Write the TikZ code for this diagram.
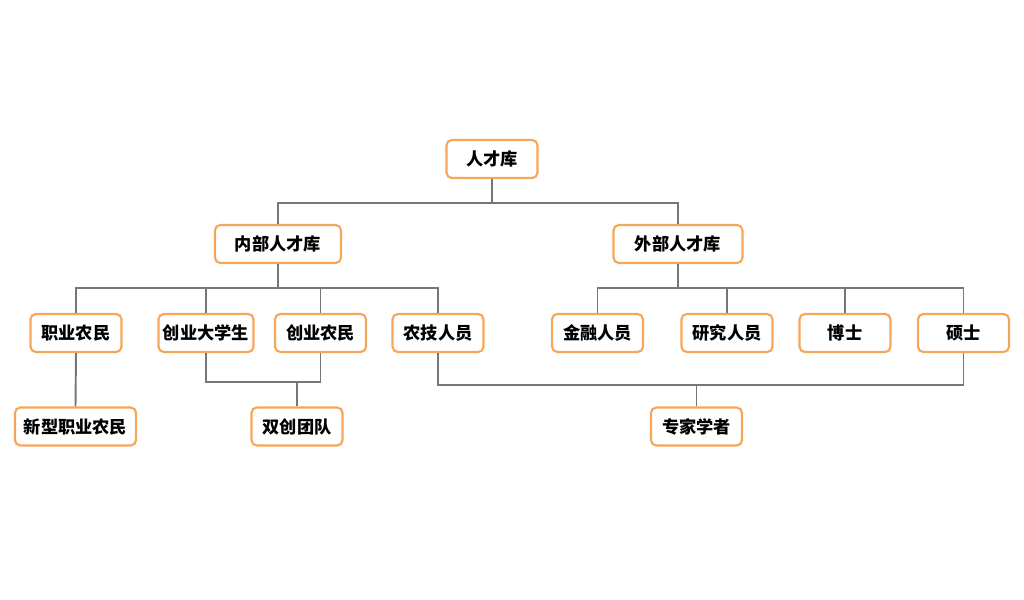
\documentclass[tikz,border=0pt]{standalone}
\usepackage{fontspec}
\usepackage{tikz}
\newfontfamily\cjk{Noto Sans CJK SC}
\definecolor{boxcol}{RGB}{246,166,88}
\definecolor{linkcol}{RGB}{118,118,118}
\tikzset{
  tbox/.style={draw=boxcol, line width=1.2pt, rounded corners=3pt, fill=white,
    minimum height=0.76cm, minimum width=1.82cm, inner sep=2pt,
    font=\cjk\bfseries\fontsize{9.8pt}{11pt}\selectfont},
  link/.style={draw=linkcol, line width=1.1pt}
}

\begin{document}
\begin{tikzpicture}[line join=miter]

  % --- page frame ---------------------------------------------------------
  \useasboundingbox (0,0) rectangle (20.48,12);

  % --- bus levels ---------------------------------------------------------
  \coordinate (BusA) at (0,7.94);
  \coordinate (BusB) at (0,6.24);
  \coordinate (BusC) at (0,4.30);
  \coordinate (BusD) at (0,4.36);

  % --- boxes --------------------------------------------------------------
  \node[tbox] (Root)  at (9.84,8.82) {人才库};
  \node[tbox, minimum width=2.52cm] (Inner) at (5.56,7.12) {内部人才库};
  \node[tbox, minimum width=2.58cm] (Outer) at (13.56,7.12) {外部人才库};

  \node[tbox] (Farmer)   at (1.52,5.34)  {职业农民};
  \node[tbox, minimum width=1.90cm] (Student) at (4.12,5.34) {创业大学生};
  \node[tbox] (Founder)  at (6.41,5.34)  {创业农民};
  \node[tbox] (Tech)     at (8.76,5.34)  {农技人员};
  \node[tbox] (Finance)  at (11.95,5.34) {金融人员};
  \node[tbox] (Research) at (14.54,5.34) {研究人员};
  \node[tbox] (Doctor)   at (16.90,5.34) {博士};
  \node[tbox] (Master)   at (19.27,5.34) {硕士};

  \node[tbox, minimum width=2.42cm] (NewFarmer) at (1.51,3.47) {新型职业农民};
  \node[tbox] (Team)    at (5.94,3.47)  {双创团队};
  \node[tbox] (Experts) at (13.93,3.47) {专家学者};

  % --- first level --------------------------------------------------------
  \draw[link] (Root.south) -- (Root.south |- BusA);
  \draw[link] (Inner.north) |- (BusA -| Outer.north) -- (Outer.north);

  % --- internal pool ------------------------------------------------------
  \draw[link] (Inner.south) -- (Inner.south |- BusB);
  \draw[link] (Farmer.north) |- (BusB -| Tech.north) -- (Tech.north);
  \draw[link] (Student.north) -- (Student.north |- BusB);
  \draw[link] (Founder.north) -- (Founder.north |- BusB);

  % --- external pool ------------------------------------------------------
  \draw[link] (Outer.south) -- (Outer.south |- BusB);
  \draw[link] (Finance.north) |- (BusB -| Master.north) -- (Master.north);
  \draw[link] (Research.north) -- (Research.north |- BusB);
  \draw[link] (Doctor.north) -- (Doctor.north |- BusB);

  % --- bottom row ---------------------------------------------------------
  \draw[link] (Farmer.south) -- (NewFarmer.north);
  \draw[link] (Student.south) |- (BusD -| Founder.south) -- (Founder.south);
  \draw[link] (Team.north) -- (Team.north |- BusD);
  \draw[link] (Tech.south) |- (BusC -| Master.south) -- (Master.south);
  \draw[link] (Experts.north) -- (Experts.north |- BusC);

\end{tikzpicture}
\end{document}
